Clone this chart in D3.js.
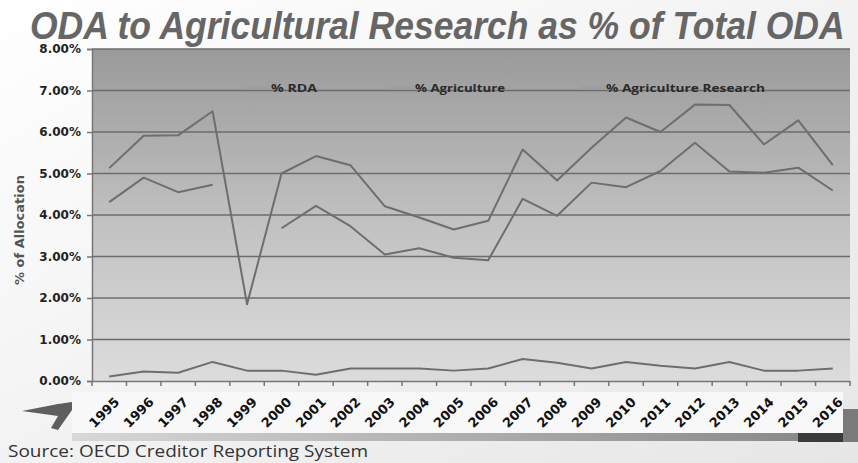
<!DOCTYPE html>
<html><head><meta charset="utf-8">
<script src="https://cdn.jsdelivr.net/npm/d3@7/dist/d3.min.js"></script>
<style>body{margin:0;background:#f2f2f2;}svg{display:block;}</style>
</head><body>
<script>
const years = ["1995","1996","1997","1998","1999","2000","2001","2002","2003","2004","2005","2006","2007","2008","2009","2010","2011","2012","2013","2014","2015","2016"];
const rda = [5.13,5.91,5.92,6.50,1.85,5.00,5.42,5.20,4.21,3.94,3.65,3.86,5.58,4.83,5.62,6.35,6.00,6.66,6.65,5.70,6.28,5.20];
const agriculture = [4.31,4.90,4.55,4.73,null,3.68,4.22,3.73,3.05,3.20,2.97,2.91,4.39,3.98,4.78,4.67,5.06,5.74,5.05,5.02,5.14,4.59];
const agriResearch = [0.11,0.23,0.20,0.46,0.25,0.25,0.15,0.30,0.30,0.30,0.25,0.30,0.53,0.44,0.30,0.46,0.37,0.30,0.46,0.25,0.25,0.30];
const yTicks = [0,1,2,3,4,5,6,7,8];
const seriesNames = ["% RDA","% Agriculture","% Agriculture Research"];

const W=858,H=463;
const svg=d3.select("body").append("svg").attr("width",W).attr("height",H);
const defs=svg.append("defs");
const bg=defs.append("linearGradient").attr("id","bg").attr("x1",0).attr("y1",0).attr("x2",1).attr("y2",1);
bg.append("stop").attr("offset","0").attr("stop-color","#ffffff");
bg.append("stop").attr("offset","1").attr("stop-color","#e6e6e6");
const pg=defs.append("linearGradient").attr("id","pg").attr("x1",0).attr("y1",0).attr("x2",0).attr("y2",1);
pg.append("stop").attr("offset","0").attr("stop-color","#9a9a9a");
pg.append("stop").attr("offset","0.55").attr("stop-color","#c3c3c3");
pg.append("stop").attr("offset","1").attr("stop-color","#dcdcdc");
const band=defs.append("linearGradient").attr("id","band").attr("x1",0).attr("y1",0).attr("x2",1).attr("y2",0);
band.append("stop").attr("offset","0").attr("stop-color","#d8d8d8");
band.append("stop").attr("offset","1").attr("stop-color","#8a8a8a");

svg.append("rect").attr("width",W).attr("height",H).attr("fill","url(#bg)");

const m={l:92,r:850,t:49,b:381};
const x=d3.scaleBand().domain(years).range([m.l,m.r]);
const y=d3.scaleLinear().domain([0,8]).range([m.b,m.t]);

// plot area
svg.append("rect").attr("x",m.l).attr("y",m.t).attr("width",m.r-m.l).attr("height",m.b-m.t).attr("fill","url(#pg)");

// decorative x-label band
svg.append("rect").attr("x",72).attr("y",392).attr("width",771).attr("height",41).attr("fill","#f8f8f8");
svg.append("rect").attr("x",72).attr("y",433).attr("width",726).attr("height",8).attr("fill","url(#band)");
svg.append("rect").attr("x",798).attr("y",433).attr("width",45).attr("height",9).attr("fill","#3a3a3a");
svg.append("rect").attr("x",843).attr("y",409).attr("width",15).attr("height",33).attr("fill","#7a7a7a");
svg.append("path").attr("d","M22,411 L58,404 L72,402 L72,410 L58,430 L51,428 L58,416 Z").attr("fill","#5e5e5e");

// gridlines
svg.append("g").selectAll("line").data(yTicks.filter(d=>d>0)).join("line")
  .attr("x1",m.l).attr("x2",m.r).attr("y1",d=>y(d)).attr("y2",d=>y(d))
  .attr("stroke","#6c6c6c").attr("stroke-width",1.5);

// axes
const yAxis=svg.append("g").attr("transform",`translate(${m.l},0)`)
  .call(d3.axisLeft(y).tickValues(yTicks).tickFormat(d=>d3.format(".2f")(d)+"%").tickSize(5).tickPadding(6));
yAxis.select(".domain").attr("stroke","#777").attr("stroke-width",1.5);
yAxis.selectAll(".tick line").attr("stroke","#777").attr("stroke-width",1.5);
yAxis.selectAll("text").attr("font-family","DejaVu Sans").attr("font-weight","bold").attr("font-size",12).attr("fill","#222");

const xAxis=svg.append("g").attr("transform",`translate(0,${m.b})`)
  .call(d3.axisBottom(x).tickSize(0).tickFormat(""));
xAxis.select(".domain").attr("stroke","#777").attr("stroke-width",1.5);
svg.append("g").selectAll("line").data(years.concat(["end"])).join("line")
  .attr("x1",(d,i)=>m.l+i*x.step()).attr("x2",(d,i)=>m.l+i*x.step())
  .attr("y1",m.b).attr("y2",m.b+5).attr("stroke","#777").attr("stroke-width",1.5);

svg.append("g").selectAll("text").data(years).join("text")
  .attr("transform",d=>`translate(${x(d)+x.bandwidth()/2+4},${396}) rotate(-45)`)
  .attr("text-anchor","end").attr("dy","0.75em")
  .attr("font-family","DejaVu Sans").attr("font-weight","bold").attr("font-size",13).attr("fill","#111")
  .text(d=>d);

// lines
const cx=d=>x(d)+x.bandwidth()/2;
const line=d3.line().defined(d=>d.v!=null).x(d=>cx(d.k)).y(d=>y(d.v));
[rda,agriculture,agriResearch].forEach(arr=>{
  svg.append("path").datum(years.map((k,i)=>({k,v:arr[i]})))
    .attr("d",line).attr("fill","none").attr("stroke","#6e6e6e").attr("stroke-width",2).attr("stroke-linejoin","round");
});

// legend
const legX=[246,390,581];
const legW=[46,90,159];
const lg=svg.append("g");
seriesNames.forEach((n,i)=>{
  lg.append("line").attr("x1",legX[i]).attr("x2",legX[i]+25).attr("y1",88).attr("y2",88).attr("stroke","#9e9e9e").attr("stroke-width",3.5);
  lg.append("text").attr("x",legX[i]+25).attr("y",92).attr("textLength",legW[i]).attr("lengthAdjust","spacingAndGlyphs")
    .attr("font-family","Open Sans").attr("font-weight","bold").attr("font-size",11).attr("fill","#2a2a2a").text(n);
});

// y title
svg.append("text").attr("transform",`translate(24,230) rotate(-90)`).attr("text-anchor","middle")
  .attr("font-family","DejaVu Sans").attr("font-weight","bold").attr("font-size",13).attr("fill","#555").text("% of Allocation");

// title (condensed via horizontal scaling, taller via vertical scaling)
const title=svg.append("text")
  .attr("font-family","Liberation Sans").attr("font-weight","bold").attr("font-style","italic").attr("font-size",29).attr("fill","#666")
  .text("ODA to Agricultural Research as % of Total ODA");
const tl=title.node().getComputedTextLength();
title.attr("transform",`translate(30,39) scale(${815/tl},1.35)`);

// source
svg.append("text").attr("x",8).attr("y",457).attr("textLength",360).attr("lengthAdjust","spacingAndGlyphs")
  .attr("font-family","Open Sans").attr("font-size",17).attr("fill","#333").text("Source: OECD Creditor Reporting System");
</script>
</body></html>
